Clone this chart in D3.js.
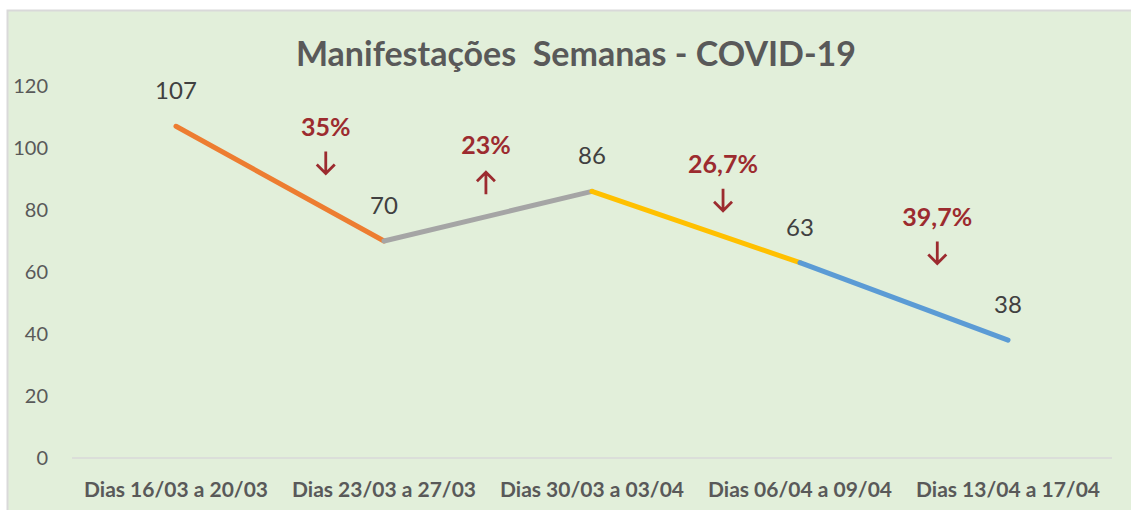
<!DOCTYPE html>
<html lang="pt">
<head>
<meta charset="utf-8">
<title>Manifestações Semanas - COVID-19</title>
<style>
  body { margin: 0; background: #fff; }
  svg  { display: block; font-family: Lato, "Open Sans", sans-serif; }
</style>
</head>
<body>
<script src="https://cdn.jsdelivr.net/npm/d3@7"></script>
<script>
  // data
  var categories = ["Dias 16/03 a 20/03", "Dias 23/03 a 27/03", "Dias 30/03 a 03/04",
                    "Dias 06/04 a 09/04", "Dias 13/04 a 17/04"];
  var values = [107, 70, 86, 63, 38];
  var segColors = ["#ED7D31", "#A5A5A5", "#FFC000", "#5B9BD5"];
  var yTicks = [0, 20, 40, 60, 80, 100, 120];
  var changeLabels = ["35%", "23%", "26,7%", "39,7%"];
  var changeDirs = ["down", "up", "down", "down"];

  var width = 1131, height = 510;
  var margin = { left: 72, right: 19, top: 86, bottom: 52 };

  var svg = d3.select("body").append("svg")
      .attr("width", width)
      .attr("height", height);

  // chart area background
  svg.append("rect")
      .attr("x", 7.5).attr("y", 10.5)
      .attr("width", width + 20).attr("height", height + 20)
      .attr("fill", "#E2EFDA")
      .attr("stroke", "#D9D9D9")
      .attr("stroke-width", 2);

  var x = d3.scalePoint()
      .domain(categories)
      .range([margin.left, width - margin.right])
      .padding(0.5);

  var y = d3.scaleLinear()
      .domain([0, 120])
      .range([height - margin.bottom, margin.top]);

  // title
  svg.append("text")
      .attr("x", 576).attr("y", 66)
      .attr("text-anchor", "middle")
      .attr("fill", "#595959")
      .style("font-weight", "bold")
      .style("font-size", "34px")
      .style("white-space", "pre")
      .text("Manifestações  Semanas - COVID-19");

  // y axis labels (no line)
  svg.append("g").selectAll("text")
    .data(yTicks)
    .enter().append("text")
      .attr("x", 48)
      .attr("y", function(d) { return y(d); })
      .attr("dy", "0.35em")
      .attr("text-anchor", "end")
      .attr("fill", "#595959")
      .style("font-size", "20px")
      .text(function(d) { return d; });

  // baseline
  svg.append("line")
      .attr("x1", margin.left).attr("x2", width - margin.right)
      .attr("y1", y(0)).attr("y2", y(0))
      .attr("stroke", "#D9D9D9")
      .attr("stroke-width", 1.5);

  // category labels
  svg.append("g").selectAll("text")
    .data(categories)
    .enter().append("text")
      .attr("x", function(d) { return x(d); })
      .attr("y", y(0) + 39)
      .attr("text-anchor", "middle")
      .attr("fill", "#595959")
      .style("font-weight", "bold")
      .style("font-size", "21px")
      .text(function(d) { return d; });

  // coloured line segments
  var segs = d3.range(values.length - 1);
  svg.append("g").selectAll("line")
    .data(segs)
    .enter().append("line")
      .attr("x1", function(i) { return x(categories[i]); })
      .attr("y1", function(i) { return y(values[i]); })
      .attr("x2", function(i) { return x(categories[i + 1]); })
      .attr("y2", function(i) { return y(values[i + 1]); })
      .attr("stroke", function(i) { return segColors[i]; })
      .attr("stroke-width", 5)
      .attr("stroke-linecap", "round");

  // value labels
  svg.append("g").selectAll("text")
    .data(values)
    .enter().append("text")
      .attr("x", function(d, i) { return x(categories[i]); })
      .attr("y", function(d) { return y(d) - 27; })
      .attr("text-anchor", "middle")
      .attr("fill", "#404040")
      .style("font-size", "24px")
      .text(function(d) { return d; });

  // percentage change annotations: position in category steps / value units
  var annoPos = [[0.72, 104], [1.49, 98], [2.63, 92], [3.66, 75]];
  var step = x.step();
  var red = "#9C2B2F";

  var anno = svg.append("g").selectAll("g")
    .data(changeLabels)
    .enter().append("g")
      .attr("transform", function(d, i) {
        return "translate(" + (x(categories[0]) + annoPos[i][0] * step) + "," + y(annoPos[i][1]) + ")";
      });

  anno.append("text")
      .attr("text-anchor", "middle")
      .attr("fill", red)
      .style("font-weight", "bold")
      .style("font-size", "25px")
      .text(function(d) { return d; });

  anno.append("path")
      .attr("fill", "none")
      .attr("stroke", red)
      .attr("stroke-width", 2.8)
      .attr("d", function(d, i) {
        if (changeDirs[i] === "down") {
          return "M0,16 V38 M-9,29 L0,38 L9,29";
        }
        return "M0,40 V18 M-9,27 L0,18 L9,27";
      });
</script>
</body>
</html>
